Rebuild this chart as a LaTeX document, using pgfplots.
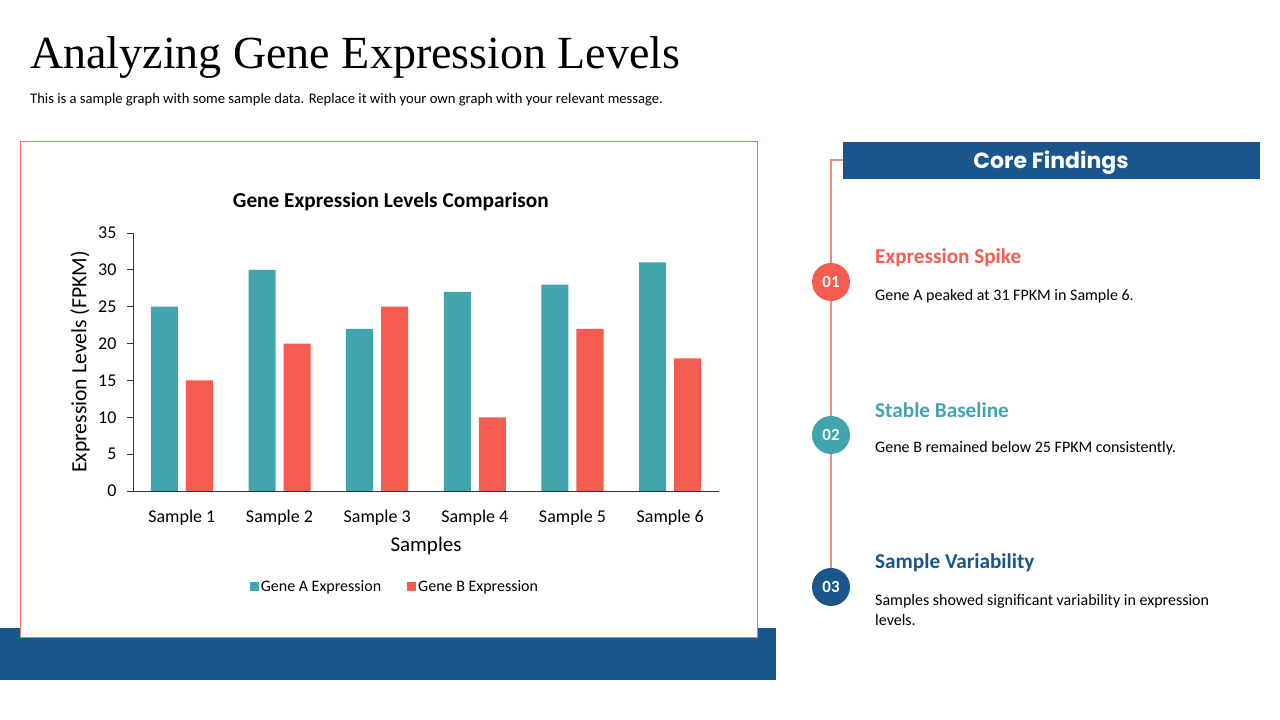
\documentclass[border=0pt]{standalone}
\usepackage{pgfplots}
\pgfplotsset{compat=1.18}
\usepackage{fontspec}
\setmainfont{Carlito}
\newfontfamily\titlefont{Liberation Serif}
\newfontfamily\headfont{Poppins}
\definecolor{teal}{RGB}{66,165,173}
\definecolor{coral}{RGB}{246,93,80}
\definecolor{navy}{RGB}{26,86,140}
\definecolor{boxred}{RGB}{238,120,110}
\definecolor{linepink}{RGB}{220,145,140}
\newcommand{\fs}[1]{\fontsize{#1}{#1}\selectfont}
\begin{document}
\begin{tikzpicture}[x=1pt,y=1pt]
\fill[white] (0,0) rectangle (1280,720);
\useasboundingbox (0,0) rectangle (1280,720);
% title
\node[anchor=west,inner sep=0] at (30,662) {\titlefont\fs{46}Analyzing Gene Expression Levels};
\node[anchor=west,inner sep=0] at (30,620) {\fs{14.6}This is a sample graph with some sample data. Replace it with your own graph with your relevant message.};
% bottom bar and chart box
\fill[navy] (0,40) rectangle (776,92);
\filldraw[fill=white,draw=boxred,line width=1pt] (20,82) rectangle (757,578);
\begin{axis}[
  at={(133pt,229pt)}, anchor=south west,
  scale only axis, width=586pt, height=258pt,
  xmin=-0.5, xmax=5.5, ymin=0, ymax=35,
  axis x line*=bottom, axis y line*=left,
  axis line style={draw=black!80,line width=0.8pt,-},
  xtick={0,1,2,3,4,5},
  xticklabels={Sample 1,Sample 2,Sample 3,Sample 4,Sample 5,Sample 6},
  x tick style={draw=none},
  extra x ticks={-0.5,0.5,1.5,2.5,3.5,4.5,5.5},
  extra x tick labels={},
  extra x tick style={major tick length=6pt, tick align=outside, tick style={draw=black!80,line width=0.8pt}},
  ytick={0,5,...,35},
  y tick style={draw=black!80,line width=0.8pt},
  major tick length=6pt, tick align=outside,
  tick label style={font=\fs{18}},
  xticklabel style={yshift=-9pt},
  yticklabel style={xshift=-7pt},
  /pgf/number format/assume math mode=true,
  ylabel={Expression Levels (FPKM)},
  ylabel style={at={(axis description cs:-0.09,0.5)},anchor=center,rotate=0,font=\fs{21.7}},
  xlabel={Samples},
  xlabel style={at={(axis description cs:0.5,-0.213)},anchor=center,font=\fs{21}},
  title={\bfseries Gene Expression Levels Comparison},
  title style={at={(axis description cs:0.44,1.097)},anchor=center,font=\fs{21.3}},
  legend style={at={(axis description cs:0.447,-0.372)},anchor=center,draw=none,
    font=\fs{16},legend columns=2,
    /tikz/every even column/.append style={column sep=24pt}},
  legend image code/.code={\fill[#1] (0pt,-4.5pt) rectangle (9pt,4.5pt);},
  clip=false,
]
\addplot[ybar,bar width=27pt,bar shift=-17.5pt,fill=teal,draw=none] coordinates {(0,25) (1,30) (2,22) (3,27) (4,28) (5,31)};
\addlegendentry{Gene A Expression}
\addplot[ybar,bar width=27pt,bar shift=17.5pt,fill=coral,draw=none] coordinates {(0,15) (1,20) (2,25) (3,10) (4,22) (5,18)};
\addlegendentry{Gene B Expression}
\end{axis}
% right panel
\draw[linepink,line width=1.5pt] (843,560) -- (831,560) -- (831,152);
\fill[navy] (843,541) rectangle (1260,578);
\node[white] at (1051,557) {\headfont\bfseries\fs{22}Core Findings};
\fill[coral] (831,438) circle (19);
\node[white] at (831,438) {\bfseries\fs{17}01};
\fill[teal] (831,285) circle (19);
\node[white] at (831,285) {\bfseries\fs{17}02};
\fill[navy] (831,133) circle (19);
\node[white] at (831,133) {\bfseries\fs{17}03};
\node[anchor=west,inner sep=0,text=coral] at (875,462) {\bfseries\fs{21.2}Expression Spike};
\node[anchor=west,inner sep=0] at (875,424) {\fs{16}Gene A peaked at 31 FPKM in Sample 6.};
\node[anchor=west,inner sep=0,text=teal] at (875,310) {\bfseries\fs{21.2}Stable Baseline};
\node[anchor=west,inner sep=0] at (875,272) {\fs{16}Gene B remained below 25 FPKM consistently.};
\node[anchor=west,inner sep=0,text=navy] at (875,157) {\bfseries\fs{21.2}Sample Variability};
\node[anchor=west,inner sep=0] at (875,119) {\fs{16}Samples showed significant variability in expression};
\node[anchor=west,inner sep=0] at (875,100) {\fs{16}levels.};
\end{tikzpicture}
\end{document}
